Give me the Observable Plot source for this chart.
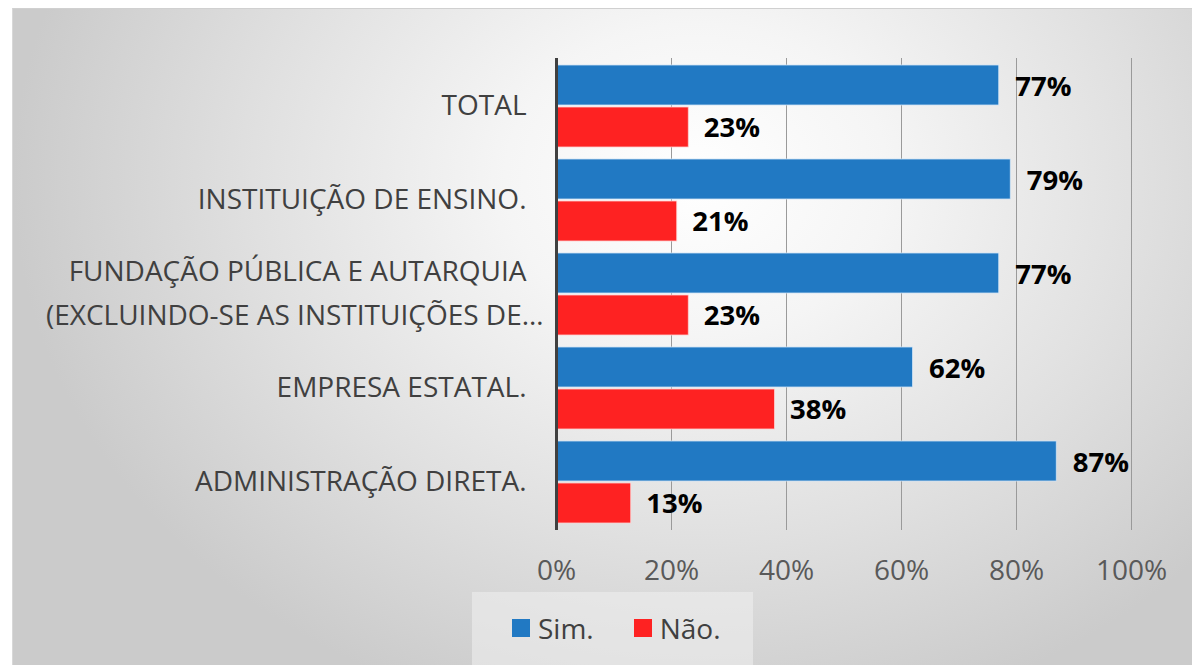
<!DOCTYPE html>
<html>
<head>
<meta charset="utf-8">
<script src="https://cdn.jsdelivr.net/npm/d3@7"></script>
<script src="https://cdn.jsdelivr.net/npm/@observablehq/plot@0.6"></script>
<style>
  html, body { margin: 0; padding: 0; background: #ffffff; }
  body { width: 1192px; height: 665px; position: relative; overflow: hidden; font-family: "Open Sans", sans-serif; }
  #bg { position: absolute; left: 12px; top: 8px; right: 0; bottom: 0;
        border-top: 1px solid #d0d0d0; border-left: 1px solid #d8d8d8;
        background: radial-gradient(ellipse 58% 85% at 58% 26%, #ffffff 0%, #f5f5f5 28%, #e0e0e0 65%, #cbcbcb 100%); }
  #chart { position: absolute; left: 0; top: 0; }
  #legend { position: absolute; left: 472px; top: 592px; width: 281px; height: 73px;
            background: rgba(240,240,240,0.55); display: flex; align-items: center; justify-content: flex-start;
            font-family: "Open Sans", sans-serif; font-size: 28px; color: #404040; box-sizing: border-box; padding-left: 40px; padding-bottom: 2px; }
  .item { display: flex; align-items: center; }
  .item + .item { margin-left: 40px; }
  .sw { width: 18px; height: 18px; margin-right: 8px; }
</style>
</head>
<body>
<div id="bg"></div>
<div id="chart"></div>
<div id="legend"></div>
<script>
const categories = [
  "TOTAL",
  "INSTITUIÇÃO DE ENSINO.",
  "FUNDAÇÃO PÚBLICA E AUTARQUIA\n(EXCLUINDO-SE AS INSTITUIÇÕES DE…",
  "EMPRESA ESTATAL.",
  "ADMINISTRAÇÃO DIRETA."
];
const series = ["Sim.", "Não."];
const simValues = [77, 79, 77, 62, 87];
const naoValues = [23, 21, 23, 38, 13];
const xTicks = [0, 20, 40, 60, 80, 100];
const colors = {"Sim.": "#2179c3", "Não.": "#fe2222"};

const data = [];
categories.forEach((c, i) => {
  data.push({category: c, series: "Sim.", value: simValues[i]});
  data.push({category: c, series: "Não.", value: naoValues[i]});
});
const sim = data.filter(d => d.series === "Sim.");
const nao = data.filter(d => d.series === "Não.");

const W = 1192, H = 592;
const mTop = 58, mBottom = 62;
const padIn = 0.128, padOut = 0.074;
const step = (H - mTop - mBottom) / (categories.length - padIn + 2 * padOut);
const bw = step * (1 - padIn);
const half = bw / 2;
const catFont = 28, catLH = 1.6;
const catDy = -0.35 * (catLH - 1) * catFont;
const isTrunc = s => s.endsWith("…");

// main lines (truncated line blanked) and truncated lines (others blanked)
const fmtMain = c => c.split("\n").map(l => isTrunc(l) ? "\u00a0" : l).join("\n");
const fmtTrunc = c => c.includes("\n") ? c.split("\n").map(l => isTrunc(l) ? l : "\u00a0").join("\n") : "";

const chart = Plot.plot({
  width: W,
  height: H,
  marginLeft: 556,
  marginRight: 61,
  marginTop: mTop,
  marginBottom: mBottom,
  style: {background: "transparent", fontFamily: "Open Sans, sans-serif", overflow: "visible"},
  x: {domain: [0, 100]},
  y: {domain: categories, paddingInner: padIn, paddingOuter: padOut},
  marks: [
    Plot.gridX(xTicks.slice(1), {stroke: "#9a9a9a", strokeOpacity: 1, strokeWidth: 1}),
    Plot.barX(sim, {x: "value", y: "category", fill: colors["Sim."], stroke: "#cfe3f5", strokeWidth: 0.8, insetBottom: half + 1}),
    Plot.barX(nao, {x: "value", y: "category", fill: colors["Não."], stroke: "#ffd0d0", strokeWidth: 0.8, insetTop: half + 1}),
    Plot.text(sim, {x: "value", y: "category", text: d => d.value + "%", dy: -half / 2 + 1, dx: 16, textAnchor: "start", fontSize: 27.5, fontWeight: "bold", fill: "#000"}),
    Plot.text(nao, {x: "value", y: "category", text: d => d.value + "%", dy: half / 2 + 1, dx: 15, textAnchor: "start", fontSize: 27.5, fontWeight: "bold", fill: "#000"}),
    Plot.ruleX([0], {stroke: "#404040", strokeWidth: 3}),
    Plot.axisX({ticks: xTicks, tickSize: 0, tickPadding: 30, tickFormat: d => d + "%", fontSize: 28, fill: "#595959", label: null}),
    Plot.axisY({tickSize: 0, tickPadding: 30, tickFormat: fmtMain, fontSize: catFont, fill: "#404040", lineHeight: catLH, dy: catDy, label: null, textOverflow: null}),
    Plot.axisY({tickSize: 0, tickPadding: 13, tickFormat: fmtTrunc, fontSize: catFont, fill: "#404040", lineHeight: catLH, dy: catDy, label: null, textOverflow: null})
  ]
});
document.getElementById("chart").appendChild(chart);

const legend = document.getElementById("legend");
series.forEach(s => {
  const it = document.createElement("div");
  it.className = "item";
  const sw = document.createElement("div");
  sw.className = "sw";
  sw.style.background = colors[s];
  const t = document.createElement("span");
  t.textContent = s;
  it.appendChild(sw);
  it.appendChild(t);
  legend.appendChild(it);
});
</script>
</body>
</html>
